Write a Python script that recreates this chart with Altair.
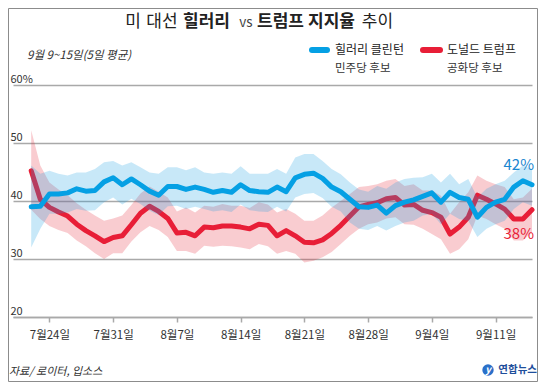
import altair as alt
import pandas as pd

# ---------------- data ----------------
dates = pd.date_range("2016-07-22", "2016-09-15", freq="D").strftime("%Y-%m-%d").tolist()

clinton = [39.0, 39.1, 41.2, 41.2, 41.4, 42.1, 41.7, 41.8, 43.3, 44.0,
           42.8, 43.8, 42.8, 41.7, 41.0, 42.5, 42.5, 42.0, 42.4, 42.0,
           41.5, 41.8, 41.5, 42.8, 41.8, 41.6, 41.5, 42.4, 41.6, 44.0,
           44.6, 44.8, 43.9, 42.4, 41.6, 40.3, 39.0, 38.9, 39.3, 37.9,
           39.2, 39.8, 40.2, 40.8, 41.4, 39.8, 41.5, 40.6, 40.3, 37.2,
           38.9, 39.8, 40.3, 42.4, 43.5, 42.8]
clinton_hi = [46.1, 44.7, 45.2, 44.7, 44.4, 44.9, 44.9, 45.5, 46.7, 46.9,
              46.1, 46.7, 45.8, 44.9, 44.7, 45.8, 45.8, 45.3, 45.8, 44.9,
              44.7, 44.9, 44.7, 46.0, 44.7, 44.7, 44.7, 45.5, 44.7, 47.5,
              48.1, 48.1, 46.9, 45.5, 44.6, 43.2, 42.0, 41.6, 42.6, 42.1,
              43.2, 43.8, 44.0, 44.1, 44.7, 43.2, 44.7, 42.9, 43.8, 40.6,
              42.1, 42.9, 43.5, 44.9, 46.1, 45.5]
clinton_lo = [32.0, 35.2, 37.8, 37.8, 38.0, 38.6, 38.3, 38.4, 39.8, 40.6,
              39.4, 40.4, 39.5, 38.3, 37.6, 39.1, 39.2, 38.6, 39.0, 38.6,
              38.2, 38.4, 38.1, 39.4, 38.4, 38.2, 38.1, 39.0, 38.2, 40.6,
              41.2, 41.4, 40.5, 39.0, 38.2, 36.3, 35.2, 35.0, 35.7, 34.9,
              35.7, 36.3, 36.6, 37.5, 37.8, 36.0, 37.8, 36.9, 36.6, 33.8,
              35.2, 36.0, 36.6, 38.6, 39.8, 39.2]

trump = [45.2, 40.3, 38.9, 38.1, 37.4, 36.0, 34.9, 34.0, 33.0, 33.7,
         34.0, 35.9, 37.9, 39.1, 38.2, 37.0, 34.5, 34.6, 34.0, 35.5,
         35.4, 35.7, 35.7, 35.5, 35.2, 36.0, 35.8, 34.0, 34.9, 34.0,
         32.9, 32.8, 33.3, 34.4, 35.8, 37.4, 39.0, 39.4, 39.7, 40.4,
         40.6, 39.3, 39.4, 38.4, 38.0, 37.2, 34.3, 35.5, 37.2, 41.0,
         40.3, 39.5, 38.6, 36.9, 36.9, 38.5]
trump_hi = [52.2, 46.1, 43.2, 42.0, 41.0, 39.6, 38.5, 37.5, 36.6, 37.0,
            37.5, 39.3, 41.3, 42.5, 41.6, 40.6, 38.2, 38.9, 38.0, 39.2,
            39.0, 39.5, 39.2, 39.2, 38.8, 39.8, 39.4, 38.0, 38.6, 37.8,
            36.6, 36.6, 37.5, 38.9, 40.0, 41.2, 42.4, 42.6, 42.9, 43.5,
            43.8, 42.6, 42.9, 41.8, 41.8, 40.9, 37.8, 39.8, 41.5, 44.4,
            43.5, 42.9, 42.4, 40.3, 40.6, 42.1]
trump_lo = [38.5, 36.9, 35.7, 35.0, 34.5, 33.2, 32.2, 31.0, 30.0, 31.0,
            31.0, 33.0, 34.6, 35.7, 35.0, 33.8, 31.4, 31.4, 30.9, 32.3,
            32.1, 32.3, 32.2, 32.0, 31.7, 32.6, 32.2, 30.9, 31.4, 30.9,
            29.4, 29.7, 30.3, 31.2, 32.6, 34.0, 35.2, 36.0, 36.3, 37.0,
            37.2, 36.0, 35.9, 35.2, 34.3, 33.4, 30.9, 31.7, 33.4, 37.5,
            36.9, 36.0, 35.2, 33.2, 33.2, 34.6]

tick_dates = [(7, 24), (7, 31), (8, 7), (8, 14), (8, 21), (8, 28), (9, 4), (9, 11)]
y_ticks = [20, 30, 40, 50, 60]

df = pd.DataFrame({
    "date": dates,
    "clinton": clinton, "clinton_lo": clinton_lo, "clinton_hi": clinton_hi,
    "trump": trump, "trump_lo": trump_lo, "trump_hi": trump_hi,
})

# ---------------- style ----------------
FONT = "Noto Sans CJK KR"
BLUE = "#05a0e4"
BLUE_BAND = "#1aa0e2"
RED = "#e81e37"
RED_BAND = "#e8283c"
GRID = "#a9a9a9"
TXT = "#333333"

x_axis = alt.Axis(
    values=[alt.DateTime(year=2016, month=m, date=d, utc=True) for m, d in tick_dates],
    labelExpr="(utcmonth(datum.value) + 1) + '월' + utcdate(datum.value) + '일'",
    grid=False, domain=True, domainColor=GRID, domainWidth=1.5,
    ticks=True, tickColor=GRID, tickSize=5, tickWidth=1.5,
    labelPadding=7, labelFont=FONT, labelFontSize=11.5, labelColor=TXT,
    labelBaseline="top", labelFlush=False, labelOverlap=False, title=None,
)
y_axis = alt.Axis(
    values=y_ticks, grid=True, gridColor=GRID, gridWidth=1.5,
    domain=False, ticks=False, tickSize=0, labelPadding=3,
    labelAlign="left", labelBaseline="alphabetic", labelOffset=-3,
    labelExpr="datum.value == 60 ? '60%' : datum.label",
    labelFont=FONT, labelFontSize=11, labelColor=TXT, labelOverlap=False, title=None,
)
x_scale = alt.Scale(type="utc", domain=[alt.DateTime(year=2016, month=7, date=20, utc=True),
                                        alt.DateTime(year=2016, month=9, date=15, utc=True)])
y_scale = alt.Scale(domain=[20, 60])


def X():
    return alt.X("date:T", scale=x_scale, axis=x_axis)


def Y(field):
    return alt.Y(f"{field}:Q", scale=y_scale, axis=y_axis)


base = alt.Chart(df)

red_band = base.mark_area(color=RED_BAND, fillOpacity=0.24).encode(
    x=X(), y=Y("trump_lo"), y2=alt.Y2("trump_hi:Q"))
red_line = base.mark_line(color=RED, strokeWidth=5, strokeJoin="round", strokeCap="round").encode(
    x=X(), y=Y("trump"))
blue_band = base.mark_area(color=BLUE_BAND, fillOpacity=0.24).encode(
    x=X(), y=Y("clinton_lo"), y2=alt.Y2("clinton_hi:Q"))
blue_line = base.mark_line(color=BLUE, strokeWidth=5, strokeJoin="round", strokeCap="round").encode(
    x=X(), y=Y("clinton"))

end_df = pd.DataFrame({"date": [dates[-1]], "c": [clinton[-1]], "t": [trump[-1]]})
lab42 = alt.Chart(end_df).mark_text(
    text="42%", align="right", baseline="middle", dx=2, dy=-20,
    font=FONT, fontSize=15, color="#1a86d0").encode(x=X(), y=Y("c"))
lab38 = alt.Chart(end_df).mark_text(
    text="38%", align="right", baseline="middle", dx=2, dy=24,
    font=FONT, fontSize=15, color=RED).encode(x=X(), y=Y("t"))

one = alt.Data(values=[{"k": 1}])


def txt(text, x, y, size, weight="normal", color="#222222", align="center", style="normal"):
    return alt.Chart(one).mark_text(
        text=text, x=x, y=y, align=align, baseline="middle", font=FONT,
        fontSize=size, fontWeight=weight, color=color, fontStyle=style)


# title, word by word (mixed weights)
TY = -63.5
title_layers = [
    txt("미", 120, TY, 17),
    txt("대선", 149, TY, 17),
    txt("힐러리", 193.5, TY, 17, "bold"),
    txt("vs", 233, TY + 1, 13.5, color="#444444"),
    txt("트럼프", 267.5, TY, 17, "bold"),
    txt("지지율", 318.5, TY, 17, "bold"),
    txt("추이", 364.5, TY, 17),
]
subtitle = txt("9월 9~15일(5일 평균)", 14, -29, 11.5, color=TXT, align="left", style="italic")

leg_blue = alt.Chart(one).mark_rule(color=BLUE, strokeWidth=6, strokeCap="round").encode(
    x=alt.value(299), x2=alt.value(314), y=alt.value(-35))
leg_red = alt.Chart(one).mark_rule(color=RED, strokeWidth=6, strokeCap="round").encode(
    x=alt.value(410), x2=alt.value(427), y=alt.value(-35))
leg_texts = [
    txt("힐러리 클린턴", 322, -35, 12, color="#222222", align="left"),
    txt("민주당 후보", 322, -16, 11.5, color=TXT, align="left"),
    txt("도널드 트럼프", 434, -35, 12, color="#222222", align="left"),
    txt("공화당 후보", 434, -16, 11.5, color=TXT, align="left"),
]

source = txt("자료/ 로이터, 입소스", -4, 286.5, 11, color=TXT, align="left", style="italic")
logo_dot = alt.Chart(one).mark_point(filled=True, shape="circle", size=130, color="#2a6fc9", opacity=1).encode(
    x=alt.value(475), y=alt.value(285))
logo_y = txt("y", 475, 285, 10, "bold", color="white", style="italic")
logo_txt = txt("연합뉴스", 524, 285, 10.5, "bold", color="#1f4f9c", align="right")

frame = alt.Chart(one).mark_rect(
    x=-4.5, y=-76.5, x2=524.5, y2=296.5, fillOpacity=0, stroke="#8c8c8c", strokeWidth=1)

chart = alt.layer(
    red_band, red_line, blue_band, blue_line, lab42, lab38,
    *title_layers, subtitle, leg_blue, leg_red, *leg_texts,
    source, logo_dot, logo_y, logo_txt, frame,
).properties(
    width=519, height=232,
    autosize=alt.AutoSizeParams(type="none"),
    padding={"left": 5, "top": 77, "right": 6, "bottom": 65},
    background="white",
).configure_view(stroke=None)

chart.save("out.html", embed_options={"renderer": "svg", "actions": False})
